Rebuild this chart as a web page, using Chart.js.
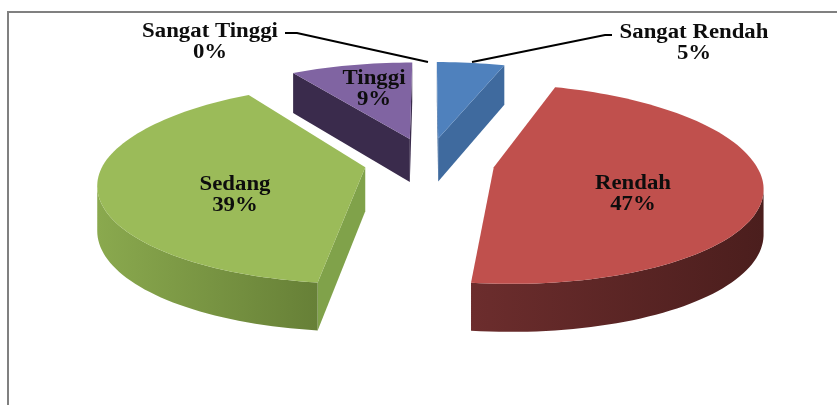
<!DOCTYPE html>
<html>
<head>
<meta charset="utf-8">
<script src="https://cdn.jsdelivr.net/npm/chart.js@4/dist/chart.umd.min.js"></script>
<style>
html, body { margin: 0; padding: 0; background: #fff; }
#wrap { position: relative; width: 837px; height: 405px; }
</style>
</head>
<body>
<div id="wrap"><canvas id="graph" width="837" height="405"></canvas></div>
<script>
const categories = ['Sangat Rendah', 'Rendah', 'Sedang', 'Tinggi', 'Sangat Tinggi'];
const percents = [5, 47, 39, 9, 0];
const topColors = ['#4f81bd', '#c0504d', '#9bbb59', '#8064a2', '#4bacc6'];
const sideColors = ['#3f6a9e', '#5a2322', '#80a24a', '#3a2b4c', '#4bacc6'];
const wallLeft = ['#3f6a9e', '#6c2d2d', '#8aa94e', '#3a2b4c', '#4bacc6'];
const wallRight = ['#3f6a9e', '#4b1e1d', '#5f7732', '#3a2b4c', '#4bacc6'];
const explode = [0.26, 0.255, 0.245, 0.26, 0.26];

// where the label of each slice goes, centre of the text block
const labelSpots = [[694, 43], [633, 194], [235, 195], [374, 89], [210, 42.5]];
const leaders = [
    [[612, 35], [605, 35], [472, 62]],
    [[285, 33], [297, 33], [428, 62]]
];

// pie plane -> screen, one perspective for all the slices
const view = { x0: 428, y0: 162, ax: 261, ay: 95.7, persp: 0.162, skew: 4 };

function project(u, v) {
    let w = 1 - view.persp * v;
    return {
        x: view.x0 + view.ax * u / w + view.skew * Math.max(0, v),
        y: view.y0 + view.ay * v / w,
        v: v
    };
}

function drop(p) {
    return p.y + 44 + 3.8 * p.v;
}

// outline of one slice, from the angles the chart worked out
function outline(arc, amount) {
    let mid = (arc.startAngle + arc.endAngle) / 2;
    let ox = Math.cos(mid) * amount;
    let oy = Math.sin(mid) * amount;
    let pts = [project(ox, oy)];
    let steps = Math.max(2, Math.ceil((arc.endAngle - arc.startAngle) / 0.03));
    for (let i = 0; i <= steps; i++) {
        let a = arc.startAngle + (arc.endAngle - arc.startAngle) * i / steps;
        pts.push(project(ox + Math.cos(a), oy + Math.sin(a)));
    }
    return pts;
}

function fillWall(ctx, run, color) {
    ctx.fillStyle = color;
    ctx.beginPath();
    run.forEach((p, i) => i ? ctx.lineTo(p.x, p.y) : ctx.moveTo(p.x, p.y));
    for (let i = run.length - 1; i >= 0; i--) ctx.lineTo(run[i].x, drop(run[i]));
    ctx.closePath();
    ctx.fill();
}

const pie3d = {
    id: 'pie3d',
    beforeDraw(chart) {
        let ctx = chart.ctx;
        ctx.save();
        ctx.strokeStyle = '#808080';
        ctx.lineWidth = 2;
        ctx.beginPath();
        ctx.moveTo(8, 405);
        ctx.lineTo(8, 12);
        ctx.lineTo(837, 12);
        ctx.stroke();
        ctx.restore();
    },
    beforeDatasetDraw(chart, args) {
        let ctx = chart.ctx;
        let arcs = args.meta.data;
        ctx.save();
        arcs.forEach((arc, idx) => {
            if (arc.endAngle - arc.startAngle < 0.001) return;
            let pts = outline(arc, explode[idx]);
            let n = pts.length;
            let minX = Math.min(...pts.map(p => p.x));
            let maxX = Math.max(...pts.map(p => p.x));
            let grad = ctx.createLinearGradient(minX, 0, maxX, 0);
            grad.addColorStop(0, wallLeft[idx]);
            grad.addColorStop(1, wallRight[idx]);
            // only edges running leftwards face the viewer
            if (pts[1].x < pts[0].x) fillWall(ctx, [pts[0], pts[1]], sideColors[idx]);
            if (pts[0].x < pts[n - 1].x) fillWall(ctx, [pts[n - 1], pts[0]], sideColors[idx]);
            let run = [];
            for (let i = 1; i < n; i++) {
                let back = i + 1 < n && pts[i + 1].x < pts[i].x;
                if (back || (run.length && pts[i].x < pts[i - 1].x)) run.push(pts[i]);
                if (!back && run.length) {
                    fillWall(ctx, run, grad);
                    run = [];
                }
            }
            ctx.fillStyle = topColors[idx];
            ctx.beginPath();
            pts.forEach((p, i) => i ? ctx.lineTo(p.x, p.y) : ctx.moveTo(p.x, p.y));
            ctx.closePath();
            ctx.fill();
        });
        ctx.restore();
        return false;
    },
    afterDraw(chart) {
        let ctx = chart.ctx;
        ctx.save();
        ctx.strokeStyle = '#000';
        ctx.lineWidth = 2;
        leaders.forEach(l => {
            ctx.beginPath();
            l.forEach((p, i) => i ? ctx.lineTo(p[0], p[1]) : ctx.moveTo(p[0], p[1]));
            ctx.stroke();
        });
        ctx.fillStyle = '#0d0d0d';
        ctx.font = 'bold 20px "Liberation Serif"';
        ctx.textAlign = 'center';
        ctx.textBaseline = 'middle';
        categories.forEach((name, i) => {
            // the original type is drawn a bit wide
            ctx.save();
            ctx.translate(labelSpots[i][0], labelSpots[i][1]);
            ctx.scale(1.14, 1);
            ctx.fillText(name, 0, -10.5);
            ctx.fillText(percents[i] + '%', 0, 10.5);
            ctx.restore();
        });
        ctx.restore();
    }
};

var ctx = document.getElementById('graph').getContext('2d');
var chart = new Chart(ctx, {
    type: 'pie',
    data: {
        labels: categories,
        datasets: [{
            data: percents,
            backgroundColor: topColors,
            borderWidth: 0
        }]
    },
    options: {
        responsive: false,
        animation: false,
        plugins: { legend: { display: false }, tooltip: { enabled: false } }
    },
    plugins: [pie3d]
});
</script>
</body>
</html>
